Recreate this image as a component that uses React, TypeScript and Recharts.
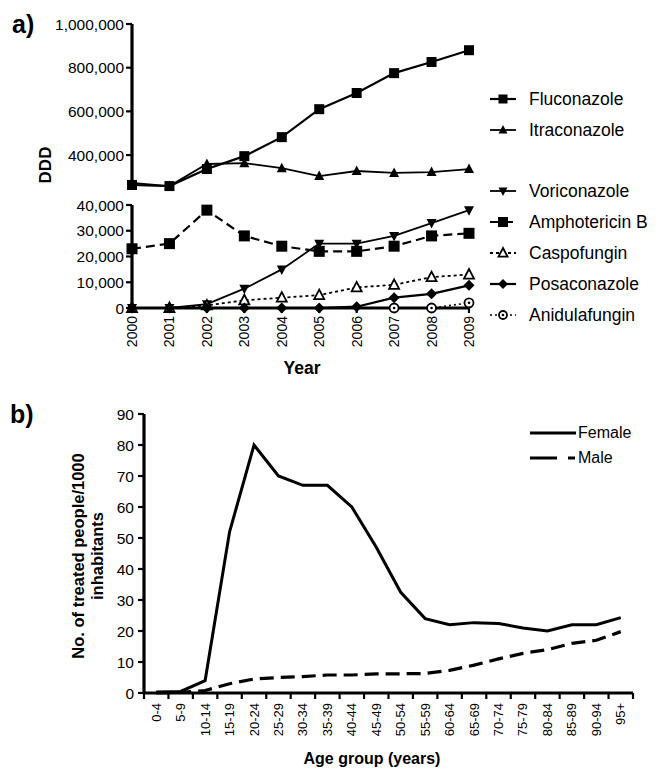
import React from "react";
import { LineChart, Line, XAxis, YAxis, Legend } from "recharts";

// panel a: yearly DDD per antifungal
const years = ["2000", "2001", "2002", "2003", "2004", "2005", "2006", "2007", "2008", "2009"];
const fluconazole = [263000, 258000, 336000, 395000, 482000, 610000, 684000, 775000, 826000, 880000];
const itraconazole = [272000, 258000, 359000, 363000, 340000, 304000, 327000, 318000, 322000, 336000];
const voriconazole = [0, 0, 1500, 7500, 15000, 25000, 25000, 28000, 33000, 38000];
const amphotericinB = [23000, 25000, 38000, 28000, 24000, 22000, 22000, 24000, 28000, 29000];
const caspofungin = [0, 0, 1000, 3000, 4000, 5000, 8000, 9000, 12000, 13000];
const posaconazole = [0, 0, 0, 0, 0, 0, 500, 4000, 5500, 8800];
const anidulafungin = [null, null, null, null, null, null, null, 0, 0, 2000];

const upperTicks = [400000, 600000, 800000, 1000000];
const lowerTicks = [0, 10000, 20000, 30000, 40000];

// panel b: treated people per 1000 inhabitants by age group
const ageGroups = [
  "0-4", "5-9", "10-14", "15-19", "20-24", "25-29", "30-34", "35-39", "40-44", "45-49",
  "50-54", "55-59", "60-64", "65-69", "70-74", "75-79", "80-84", "85-89", "90-94", "95+",
];
const female = [0.3, 0.5, 4, 52, 80, 70, 67, 67, 60, 47, 32.5, 24, 22, 22.7, 22.4, 21, 20, 22, 22, 24.3];
const male = [0, 0.2, 0.8, 3, 4.5, 5, 5.3, 5.8, 5.8, 6.2, 6.2, 6.3, 7.3, 9, 11, 12.8, 14, 16, 17, 19.8];
const rateTicks = [0, 10, 20, 30, 40, 50, 60, 70, 80, 90];

const yearData = years.map((year, i) => ({
  year,
  fluconazole: fluconazole[i],
  itraconazole: itraconazole[i],
  voriconazole: voriconazole[i],
  amphotericinB: amphotericinB[i],
  caspofungin: caspofungin[i],
  posaconazole: posaconazole[i],
  anidulafungin: anidulafungin[i],
}));

const ageData = ageGroups.map((age, i) => ({ age, female: female[i], male: male[i] }));

const FONT = '"Liberation Sans", Arial, Helvetica, sans-serif';
const INK = "#000";
const AGE_HALF_BAND = 489 / 20 / 2;

type MarkerKind = "square" | "triUp" | "triDown" | "triOpen" | "diamond" | "circleDot";

const SERIES: Record<string, { name: string; marker: MarkerKind; size: number; width: number; dash?: string }> = {
  fluconazole: { name: "Fluconazole", marker: "square", size: 10, width: 2.2 },
  itraconazole: { name: "Itraconazole", marker: "triUp", size: 10, width: 1.8 },
  voriconazole: { name: "Voriconazole", marker: "triDown", size: 10, width: 1.8 },
  amphotericinB: { name: "Amphotericin B", marker: "square", size: 11, width: 2.2, dash: "9 5" },
  caspofungin: { name: "Caspofungin", marker: "triOpen", size: 10, width: 1.8, dash: "3 3" },
  posaconazole: { name: "Posaconazole", marker: "diamond", size: 11, width: 2.2 },
  anidulafungin: { name: "Anidulafungin", marker: "circleDot", size: 9, width: 1.6, dash: "2 3" },
};

function Marker({ kind, cx, cy, size }: { kind: MarkerKind; cx: number; cy: number; size: number }) {
  const h = size / 2;
  switch (kind) {
    case "square":
      return <rect x={cx - h} y={cy - h} width={size} height={size} fill={INK} />;
    case "triUp":
      return <polygon points={`${cx},${cy - h * 1.1} ${cx - h},${cy + h * 0.8} ${cx + h},${cy + h * 0.8}`} fill={INK} />;
    case "triDown":
      return <polygon points={`${cx},${cy + h * 1.1} ${cx - h},${cy - h * 0.8} ${cx + h},${cy - h * 0.8}`} fill={INK} />;
    case "triOpen":
      return (
        <polygon
          points={`${cx},${cy - h * 1.1} ${cx - h},${cy + h * 0.8} ${cx + h},${cy + h * 0.8}`}
          fill="#fff"
          stroke={INK}
          strokeWidth={1.8}
        />
      );
    case "diamond":
      return <polygon points={`${cx},${cy - h} ${cx + h},${cy} ${cx},${cy + h} ${cx - h},${cy}`} fill={INK} />;
    case "circleDot":
      return (
        <g>
          <circle cx={cx} cy={cy} r={h} fill="#fff" stroke={INK} strokeWidth={1.8} />
          <circle cx={cx} cy={cy} r={1.3} fill={INK} />
        </g>
      );
  }
}

function dotFor(key: string) {
  const s = SERIES[key];
  return (p: any) => {
    if (p.cx == null || p.cy == null || p.value == null) return <g key={`${key}-${p.index}`} />;
    return (
      <g key={`${key}-${p.index}`}>
        <Marker kind={s.marker} cx={p.cx} cy={p.cy} size={s.size} />
      </g>
    );
  };
}

function DrugLegend({ keys }: { keys: string[] }) {
  return (
    <div style={{ fontFamily: FONT }}>
      {keys.map((k) => {
        const s = SERIES[k];
        return (
          <div key={k} style={{ display: "flex", alignItems: "center", height: 31 }}>
            <svg width={26} height={16} style={{ marginRight: 13, overflow: "visible" }}>
              <line x1={0} x2={26} y1={8} y2={8} stroke={INK} strokeWidth={s.width} strokeDasharray={s.dash} />
              <Marker kind={s.marker} cx={13} cy={8} size={s.size - 1} />
            </svg>
            <span style={{ fontSize: 17.5, color: INK }}>{s.name}</span>
          </div>
        );
      })}
    </div>
  );
}

function SexLegend() {
  return (
    <div style={{ fontFamily: FONT }}>
      <div style={{ display: "flex", alignItems: "center", height: 25 }}>
        <svg width={48} height={10}>
          <line x1={0} x2={46} y1={5} y2={5} stroke={INK} strokeWidth={3.2} />
        </svg>
        <span style={{ fontSize: 16, color: INK }}>Female</span>
      </div>
      <div style={{ display: "flex", alignItems: "center", height: 25 }}>
        <svg width={48} height={10}>
          <line x1={0} x2={46} y1={5} y2={5} stroke={INK} strokeWidth={3.2} strokeDasharray="27 11 7 20" />
        </svg>
        <span style={{ fontSize: 16, color: INK }}>Male</span>
      </div>
    </div>
  );
}

function YearTick({ x, y, payload }: any) {
  return (
    <text
      x={x}
      y={y}
      transform={`rotate(-90 ${x} ${y})`}
      textAnchor="end"
      dominantBaseline="central"
      fontSize={14}
      fontFamily={FONT}
      fill={INK}
    >
      {payload.value}
    </text>
  );
}

function AgeTick({ x, y, payload, index }: any) {
  const axisY = y - 10;
  return (
    <g>
      <line x1={x - AGE_HALF_BAND} x2={x - AGE_HALF_BAND} y1={axisY} y2={axisY + 6} stroke={INK} strokeWidth={2.2} />
      {index === ageGroups.length - 1 && (
        <line x1={x + AGE_HALF_BAND} x2={x + AGE_HALF_BAND} y1={axisY} y2={axisY + 6} stroke={INK} strokeWidth={2.2} />
      )}
      <text
        x={x}
        y={y}
        transform={`rotate(-90 ${x} ${y})`}
        textAnchor="end"
        dominantBaseline="central"
        fontSize={13}
        fontFamily={FONT}
        fill={INK}
      >
        {payload.value}
      </text>
    </g>
  );
}

const fmt = (v: number) => v.toLocaleString("en-US");
const axisLine = { stroke: INK, strokeWidth: 3.2 };
const tickLine = { stroke: INK, strokeWidth: 2.2 };
const tickFont = { fontSize: 15.5, fill: INK, fontFamily: FONT };

function drugLine(key: string) {
  const s = SERIES[key];
  return (
    <Line
      key={key}
      dataKey={key}
      name={s.name}
      type="linear"
      stroke={INK}
      strokeWidth={s.width}
      strokeDasharray={s.dash}
      dot={dotFor(key)}
      activeDot={false}
      connectNulls={false}
      isAnimationActive={false}
    />
  );
}

const upperKeys = ["fluconazole", "itraconazole"];
const lowerKeys = ["voriconazole", "amphotericinB", "caspofungin", "posaconazole", "anidulafungin"];
const legendSettings = { layout: "vertical" as const, align: "center" as const, verticalAlign: "middle" as const };

export default function App() {
  return (
    <div style={{ position: "absolute", left: 0, top: 0, width: 657, height: 768, background: "#fff", fontFamily: FONT }}>
      {/* a) upper segment of the broken axis */}
      <div style={{ position: "absolute", left: 0, top: 0 }}>
        <LineChart width={657} height={200} data={yearData} margin={{ top: 24, right: 188, left: 52, bottom: 10 }}>
          <XAxis dataKey="year" hide />
          <YAxis
            width={80}
            domain={[240000, 1000000]}
            ticks={upperTicks}
            tickFormatter={fmt}
            tick={tickFont}
            tickSize={6}
            tickMargin={2}
            axisLine={axisLine}
            tickLine={tickLine}
          />
          <Legend
            {...legendSettings}
            wrapperStyle={{ left: 490, top: 83.5, width: 167 }}
            content={() => <DrugLegend keys={upperKeys} />}
          />
          {upperKeys.map(drugLine)}
        </LineChart>
      </div>

      {/* a) lower segment */}
      <div style={{ position: "absolute", left: 0, top: 170 }}>
        <LineChart width={657} height={210} data={yearData} margin={{ top: 35, right: 188, left: 52, bottom: 12 }}>
          <XAxis
            dataKey="year"
            interval={0}
            height={60}
            tick={<YearTick />}
            tickSize={5}
            tickMargin={3}
            axisLine={axisLine}
            tickLine={tickLine}
          />
          <YAxis
            width={80}
            domain={[0, 40000]}
            ticks={lowerTicks}
            tickFormatter={fmt}
            tick={tickFont}
            tickSize={6}
            tickMargin={2}
            axisLine={axisLine}
            tickLine={tickLine}
          />
          <Legend
            {...legendSettings}
            wrapperStyle={{ left: 490, top: 5.5, width: 167 }}
            content={() => <DrugLegend keys={lowerKeys} />}
          />
          {lowerKeys.map(drugLine)}
        </LineChart>
      </div>

      {/* b) age groups */}
      <div style={{ position: "absolute", left: 0, top: 380 }}>
        <LineChart width={657} height={388} data={ageData} margin={{ top: 34, right: 24, left: 84, bottom: 15 }}>
          <XAxis
            dataKey="age"
            interval={0}
            height={60}
            padding={{ left: AGE_HALF_BAND, right: AGE_HALF_BAND }}
            tick={<AgeTick />}
            tickSize={6}
            tickMargin={4}
            tickLine={false}
            axisLine={axisLine}
          />
          <YAxis
            width={60}
            domain={[0, 90]}
            ticks={rateTicks}
            tick={tickFont}
            tickSize={6}
            tickMargin={4}
            axisLine={axisLine}
            tickLine={tickLine}
          />
          <Legend {...legendSettings} wrapperStyle={{ left: 530, top: 40, width: 127 }} content={() => <SexLegend />} />
          <Line dataKey="female" name="Female" type="linear" stroke={INK} strokeWidth={3} dot={false} activeDot={false} isAnimationActive={false} />
          <Line
            dataKey="male"
            name="Male"
            type="linear"
            stroke={INK}
            strokeWidth={3.2}
            strokeDasharray="14 7"
            dot={false}
            activeDot={false}
            isAnimationActive={false}
          />
        </LineChart>
      </div>

      {/* panel letters and axis titles */}
      <svg width={657} height={768} style={{ position: "absolute", left: 0, top: 0, pointerEvents: "none" }}>
        <g fontFamily={FONT} fontWeight="bold" fill={INK}>
          <text x={12} y={33} fontSize={25}>a)</text>
          <text x={51} y={165} fontSize={17} textAnchor="middle" transform="rotate(-90 51 165)">DDD</text>
          <text x={302} y={374} fontSize={17.5} textAnchor="middle">Year</text>
          <text x={10} y={423} fontSize={25}>b)</text>
          <text x={84} y={556} fontSize={16.5} textAnchor="middle" transform="rotate(-90 84 556)">No. of treated people/1000</text>
          <text x={103} y={556} fontSize={16.5} textAnchor="middle" transform="rotate(-90 103 556)">inhabitants</text>
          <text x={372} y={764} fontSize={16} textAnchor="middle">Age group (years)</text>
        </g>
      </svg>
    </div>
  );
}
